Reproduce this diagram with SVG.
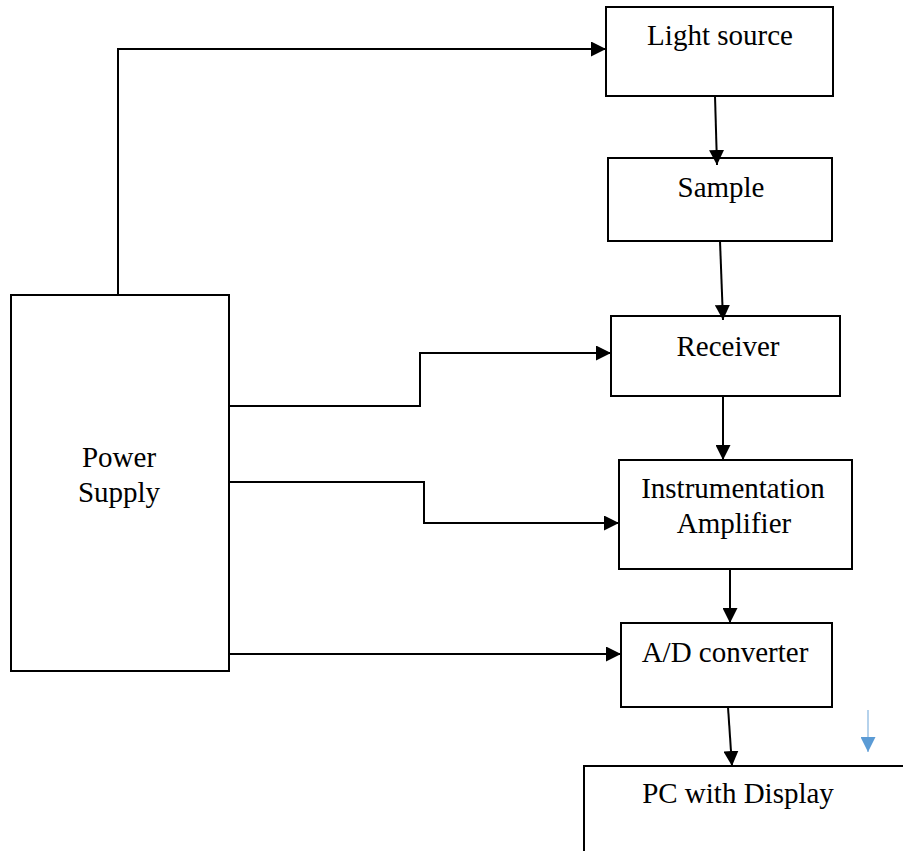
<svg xmlns="http://www.w3.org/2000/svg" width="903" height="851" viewBox="0 0 903 851">
  <style>
    .box { fill: #fff; stroke: #000; stroke-width: 2; }
    .lbl { font-family: "Liberation Serif", "Times New Roman", serif; font-size: 29px; fill: #000; text-anchor: middle; }
    .wire { fill: none; stroke: #000; stroke-width: 2; }
  </style>
  <defs>
    <marker id="ah" markerUnits="userSpaceOnUse" markerWidth="15" markerHeight="15" refX="15" refY="7.5" orient="auto">
      <path d="M0,0 L15,7.5 L0,15 z" fill="#000"/>
    </marker>
    <marker id="ahb" markerUnits="userSpaceOnUse" markerWidth="15" markerHeight="15" refX="15" refY="7.5" orient="auto">
      <path d="M0,0 L15,7.5 L0,15 z" fill="#5B9BD5"/>
    </marker>
  </defs>
  <rect width="903" height="851" fill="#fff"/>

  <g id="power-supply">
    <rect class="box" x="11" y="295" width="218" height="376"/>
    <text class="lbl" x="119" y="467">Power</text>
    <text class="lbl" x="119" y="502">Supply</text>
  </g>
  <g id="light-source">
    <rect class="box" x="606" y="7" width="227" height="89"/>
    <text class="lbl" x="720" y="45">Light source</text>
  </g>
  <g id="sample">
    <rect class="box" x="608" y="158" width="224" height="83"/>
    <text class="lbl" x="721" y="197">Sample</text>
  </g>
  <g id="receiver">
    <rect class="box" x="611" y="316" width="229" height="80"/>
    <text class="lbl" x="728" y="356">Receiver</text>
  </g>
  <g id="instrumentation-amplifier">
    <rect class="box" x="619" y="460" width="233" height="109"/>
    <text class="lbl" x="733" y="498">Instrumentation</text>
    <text class="lbl" x="734" y="533">Amplifier</text>
  </g>
  <g id="ad-converter">
    <rect class="box" x="621" y="623" width="211" height="84"/>
    <text class="lbl" x="725" y="662">A/D converter</text>
  </g>
  <g id="pc-display">
    <path class="wire" d="M584,851 L584,766 L903,766"/>
    <text class="lbl" x="738" y="803">PC with Display</text>
  </g>

  <g id="connectors">
    <path class="wire" d="M118,294 L118,49 L606,49" marker-end="url(#ah)"/>
    <path class="wire" d="M715,96 L717,165" marker-end="url(#ah)"/>
    <path class="wire" d="M720,241 L723,320" marker-end="url(#ah)"/>
    <path class="wire" d="M229,406 L420,406 L420,353 L611,353" marker-end="url(#ah)"/>
    <path class="wire" d="M229,482 L424,482 L424,523 L619,523" marker-end="url(#ah)"/>
    <path class="wire" d="M723,396 L723,460" marker-end="url(#ah)"/>
    <path class="wire" d="M730,569 L730,623" marker-end="url(#ah)"/>
    <path class="wire" d="M229,654 L621,654" marker-end="url(#ah)"/>
    <path class="wire" d="M728,707 L732,766" marker-end="url(#ah)"/>
    <path d="M868,710 L868,752" fill="none" stroke="#9DC3E6" stroke-width="1.5" marker-end="url(#ahb)"/>
  </g>
</svg>
